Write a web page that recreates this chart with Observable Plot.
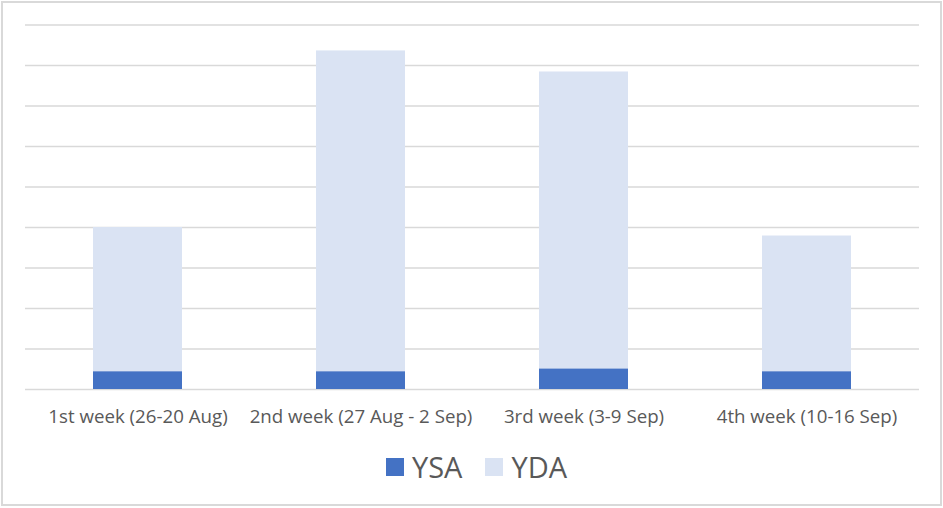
<!DOCTYPE html>
<html>
<head>
<meta charset="utf-8">
<script src="https://cdn.jsdelivr.net/npm/d3@7"></script>
<script src="https://cdn.jsdelivr.net/npm/@observablehq/plot@0.6"></script>
<style>
  html, body { margin: 0; padding: 0; background: #fff; }
  #wrap { position: relative; width: 943px; height: 508px; overflow: hidden; font-family: "Open Sans", sans-serif; }
  #frame { position: absolute; left: 1px; top: 0.5px; width: 941px; height: 505px; box-sizing: border-box; border: 2px solid #d9d9d9; pointer-events: none; }
  #chart { position: absolute; left: 0; top: 0; }
  #legend { position: absolute; left: 386px; top: 453px; height: 28px; display: flex; align-items: center; font-size: 29px; line-height: 28px; color: #595959; }
  .item { display: flex; align-items: center; margin-right: 23px; }
  .sw { width: 18px; height: 18px; margin-right: 8px; }
</style>
</head>
<body>
<div id="wrap">
  <div id="chart"></div>
  <div id="legend"></div>
  <div id="frame"></div>
</div>
<script>
const weeks = ["1st week (26-20 Aug)", "2nd week (27 Aug - 2 Sep)", "3rd week (3-9 Sep)", "4th week (10-16 Sep)"];
const series = ["YSA", "YDA"];
const ysa = [4.4, 4.4, 5.1, 4.4];
const yda = [35.6, 79.2, 73.3, 33.5];
const gridTicks = [0, 10, 20, 30, 40, 50, 60, 70, 80, 90];
const colors = ["#4472C4", "#DAE3F3"];

const data = [];
weeks.forEach((w, i) => {
  data.push({week: w, series: "YSA", value: ysa[i]});
  data.push({week: w, series: "YDA", value: yda[i]});
});

const chart = Plot.plot({
  width: 943,
  height: 440,
  marginLeft: 25,
  marginRight: 24,
  marginTop: 24.5,
  marginBottom: 51,
  style: {fontFamily: "'Open Sans', sans-serif", background: "transparent"},
  x: {domain: weeks, paddingInner: 0.6, paddingOuter: 0.3, label: null},
  y: {domain: [0, 90], axis: null},
  color: {domain: series, range: colors},
  marks: [
    Plot.ruleY(gridTicks, {stroke: "#d9d9d9", strokeWidth: 1.5}),
    Plot.barY(data, {x: "week", y: "value", fill: "series", z: "series", order: series}),
    Plot.axisX({tickSize: 0, tickPadding: 20, fontSize: 18.7, fill: "#595959", label: null})
  ]
});
document.getElementById("chart").appendChild(chart);

const legend = document.getElementById("legend");
series.forEach((s, i) => {
  const item = document.createElement("div");
  item.className = "item";
  const sw = document.createElement("div");
  sw.className = "sw";
  sw.style.background = colors[i];
  const t = document.createElement("span");
  t.textContent = s;
  item.appendChild(sw);
  item.appendChild(t);
  legend.appendChild(item);
});
</script>
</body>
</html>
